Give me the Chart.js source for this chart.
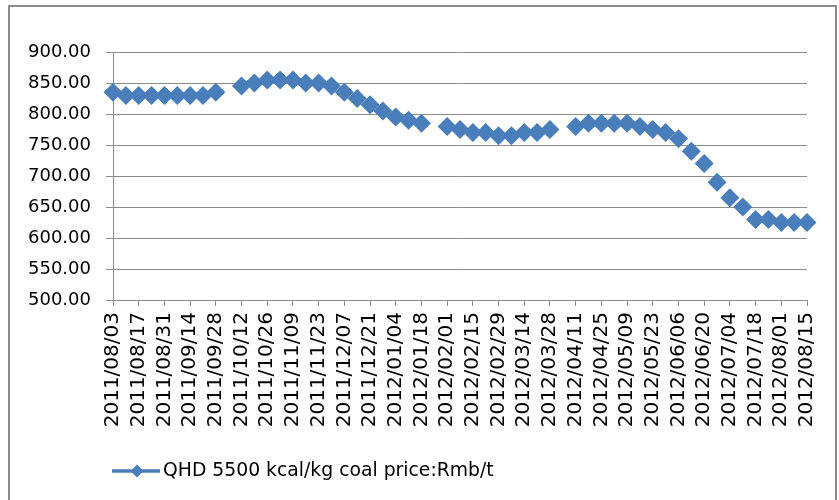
<!DOCTYPE html>
<html>
<head>
<meta charset="utf-8">
<script src="https://cdn.jsdelivr.net/npm/chart.js@4.4.1/dist/chart.umd.min.js"></script>
<style>
  html, body { margin: 0; padding: 0; background: #fff; overflow: hidden; }
  #wrap { position: relative; width: 839px; height: 500px; }
  #c { position: absolute; left: 0; top: 0; }
  #frame {
    position: absolute; left: 8px; top: 5px; width: 825px; height: 600px;
    border: 2px solid #8c8c8c; pointer-events: none;
  }
</style>
</head>
<body>
<div id="wrap">
  <canvas id="c" width="839" height="500"></canvas>
  <div id="frame"></div>
</div>
<script>
// Weekly dates (Wednesdays), Aug 2011 – Aug 2012
const weeks = [
  '2011/08/03','2011/08/10','2011/08/17','2011/08/24','2011/08/31','2011/09/07','2011/09/14',
  '2011/09/21','2011/09/28','2011/10/05','2011/10/12','2011/10/19','2011/10/26','2011/11/02',
  '2011/11/09','2011/11/16','2011/11/23','2011/11/30','2011/12/07','2011/12/14','2011/12/21',
  '2011/12/28','2012/01/04','2012/01/11','2012/01/18','2012/01/25','2012/02/01','2012/02/08',
  '2012/02/15','2012/02/22','2012/02/29','2012/03/07','2012/03/14','2012/03/21','2012/03/28',
  '2012/04/04','2012/04/11','2012/04/18','2012/04/25','2012/05/02','2012/05/09','2012/05/16',
  '2012/05/23','2012/05/30','2012/06/06','2012/06/13','2012/06/20','2012/06/27','2012/07/04',
  '2012/07/11','2012/07/18','2012/07/25','2012/08/01','2012/08/08','2012/08/15'
];

// QHD 5500 kcal/kg coal price, Rmb/t (null = holiday week, no quote)
const qhdPrice = [
  835, 830, 830, 830, 830, 830, 830,
  830, 835, null, 845, 850, 855, 855,
  855, 850, 850, 845, 835, 825, 815,
  805, 795, 790, 785, null, 780, 775,
  770, 770, 765, 765, 770, 770, 775,
  null, 780, 785, 785, 785, 785, 780,
  775, 770, 760, 740, 720, 690, 665,
  650, 630, 630, 625, 625, 625
];

const seriesName = 'QHD 5500 kcal/kg coal price:Rmb/t';
const yMin = 500, yMax = 900, yStep = 50;

const BLUE = '#4A7EBB';
const GRID = '#8c8c8c';
const FONT = 'DejaVu Sans';

// Legend entry drawn below the axis labels: line with a diamond, then the series name
const legendPlugin = {
  id: 'bottomLegend',
  afterDraw(chart) {
    const ctx = chart.ctx;
    const y = 471;
    ctx.save();
    ctx.strokeStyle = BLUE;
    ctx.lineWidth = 3.5;
    ctx.beginPath();
    ctx.moveTo(112, y);
    ctx.lineTo(160, y);
    ctx.stroke();
    ctx.fillStyle = BLUE;
    const cx = 137, r = 6.5;
    ctx.beginPath();
    ctx.moveTo(cx, y - r);
    ctx.lineTo(cx + r, y);
    ctx.lineTo(cx, y + r);
    ctx.lineTo(cx - r, y);
    ctx.closePath();
    ctx.fill();
    ctx.fillStyle = '#000';
    ctx.font = '18.8px "' + FONT + '"';
    ctx.textBaseline = 'middle';
    ctx.textAlign = 'left';
    ctx.fillText(chart.data.datasets[0].label, 163, y);
    ctx.restore();
  }
};

new Chart(document.getElementById('c'), {
  type: 'line',
  data: {
    labels: weeks,
    datasets: [{
      label: seriesName,
      data: qhdPrice,
      showLine: false,
      spanGaps: false,
      borderColor: BLUE,
      backgroundColor: BLUE,
      pointStyle: 'rectRot',
      pointRadius: 9.5,
      pointHoverRadius: 9.5,
      pointBorderWidth: 0,
      pointBackgroundColor: BLUE
    }]
  },
  options: {
    responsive: false,
    animation: false,
    events: [],
    layout: { padding: { left: 0, top: 52, right: 32, bottom: 0 } },
    plugins: { legend: { display: false }, tooltip: { enabled: false } },
    scales: {
      x: {
        type: 'category',
        offset: false,
        afterFit(s) { s.height = 200; },
        border: { color: GRID, width: 1 },
        grid: {
          drawOnChartArea: false,
          drawTicks: true,
          tickLength: 6,
          color: c => (c.index % 2 === 0 ? GRID : 'rgba(0,0,0,0)')
        },
        ticks: {
          autoSkip: false,
          maxRotation: 90,
          minRotation: 90,
          padding: 6,
          color: '#000',
          font: { family: FONT, size: 20 },
          callback(v, i) { return i % 2 === 0 ? weeks[i] : ''; }
        }
      },
      y: {
        min: yMin,
        max: yMax,
        afterFit(s) { s.width = 113; },
        border: { color: GRID, width: 1 },
        grid: { color: GRID, lineWidth: 1, drawTicks: true, tickLength: 7 },
        ticks: {
          stepSize: yStep,
          padding: 15,
          color: '#000',
          font: { family: FONT, size: 18 },
          callback: v => v.toFixed(2)
        }
      }
    }
  },
  plugins: [legendPlugin]
});
</script>
</body>
</html>
